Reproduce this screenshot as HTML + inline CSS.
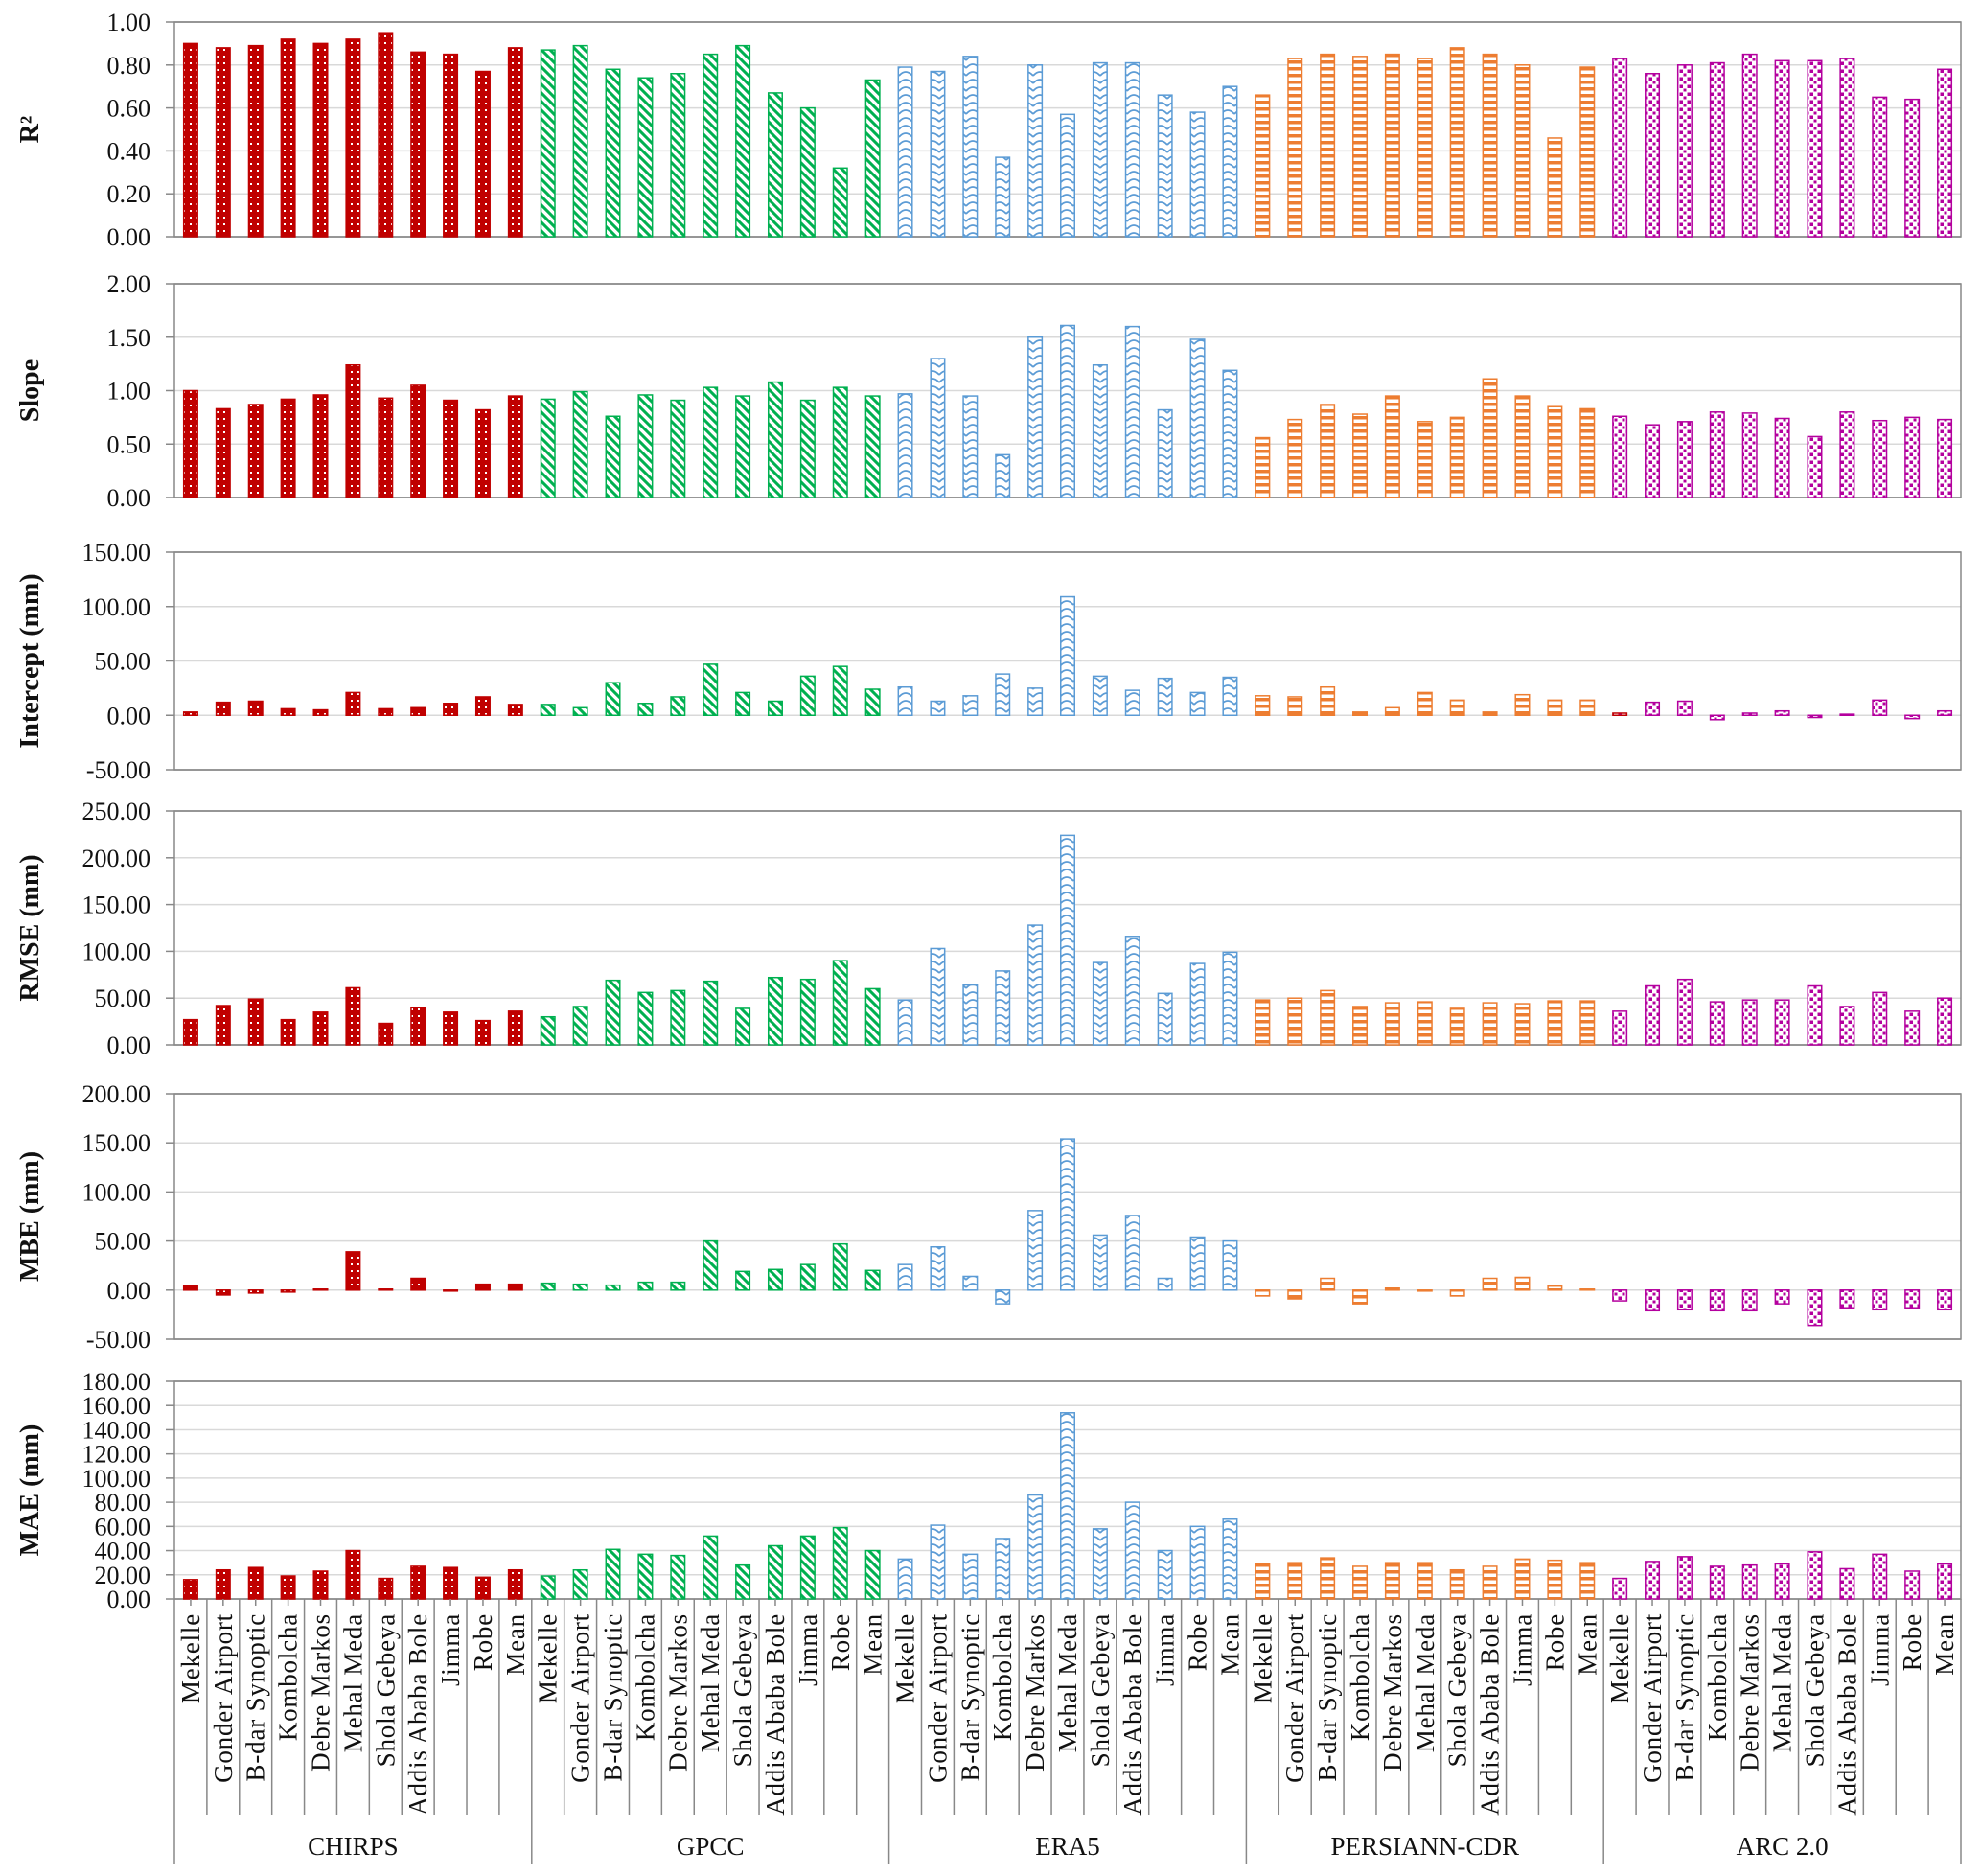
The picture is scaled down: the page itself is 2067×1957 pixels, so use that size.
<!DOCTYPE html>
<html><head><meta charset="utf-8"><style>
html,body{margin:0;padding:0;background:#fff}
svg{display:block;font-family:"Liberation Serif",serif}
</style></head><body>
<svg id="chart" width="2067" height="1957" viewBox="0 0 2067 1957" xmlns="http://www.w3.org/2000/svg">
<defs>
<pattern id="p0" patternUnits="userSpaceOnUse" width="7" height="7"><rect width="7" height="7" fill="#c00000"/><rect x="2" y="2" width="2" height="2" fill="#fff"/></pattern>
<pattern id="p1" patternUnits="userSpaceOnUse" width="9" height="9"><rect width="9" height="9" fill="#fff"/><path d="M-2,-2 L11,11 M-2,7 L2,11 M7,-2 L11,2" stroke="#00b050" stroke-width="3"/></pattern>
<pattern id="p2" patternUnits="userSpaceOnUse" width="14" height="8"><rect width="14" height="8" fill="#fff"/><path d="M0,7 Q7,-1 14,7" fill="none" stroke="#5b9bd5" stroke-width="1.8"/></pattern>
<pattern id="p3" patternUnits="userSpaceOnUse" width="8" height="7"><rect width="8" height="7" fill="#fff"/><rect y="0" width="8" height="3.5" fill="#ed7d31"/></pattern>
<pattern id="p4" patternUnits="userSpaceOnUse" width="8" height="8"><rect width="8" height="8" fill="#fff"/><rect x="0.5" y="0.5" width="3.5" height="3.5" fill="#b4009e"/><rect x="4.5" y="4.5" width="3" height="3" fill="#b4009e"/></pattern>
</defs>
<g id="root"></g>
</svg>
<script>
const stations = ["Mekelle","Gonder Airport","B-dar Synoptic","Kombolcha","Debre Markos","Mehal Meda","Shola Gebeya","Addis Ababa Bole","Jimma","Robe","Mean"];
const products = ["CHIRPS","GPCC","ERA5","PERSIANN-CDR","ARC 2.0"];
const r2Values = [
 [0.90,0.88,0.89,0.92,0.90,0.92,0.95,0.86,0.85,0.77,0.88],
 [0.87,0.89,0.78,0.74,0.76,0.85,0.89,0.67,0.60,0.32,0.73],
 [0.79,0.77,0.84,0.37,0.80,0.57,0.81,0.81,0.66,0.58,0.70],
 [0.66,0.83,0.85,0.84,0.85,0.83,0.88,0.85,0.80,0.46,0.79],
 [0.83,0.76,0.80,0.81,0.85,0.82,0.82,0.83,0.65,0.64,0.78]];
const slopeValues = [
 [1.00,0.83,0.87,0.92,0.96,1.24,0.93,1.05,0.91,0.82,0.95],
 [0.92,0.99,0.76,0.96,0.91,1.03,0.95,1.08,0.91,1.03,0.95],
 [0.97,1.30,0.95,0.40,1.50,1.61,1.24,1.60,0.82,1.48,1.19],
 [0.56,0.73,0.87,0.78,0.95,0.71,0.75,1.11,0.95,0.85,0.83],
 [0.76,0.68,0.71,0.80,0.79,0.74,0.57,0.80,0.72,0.75,0.73]];
const interceptValues = [
 [3,12,13,6,5,21,6,7,11,17,10],
 [10,7,30,11,17,47,21,13,36,45,24],
 [26,13,18,38,25,109,36,23,34,21,35],
 [18,17,26,3,7,21,14,3,19,14,14],
 [2,12,13,-4,2,4,-2,1,14,-3,4]];
const rmseValues = [
 [27,42,49,27,35,61,23,40,35,26,36],
 [30,41,69,56,58,68,39,72,70,90,60],
 [48,103,64,79,128,224,88,116,55,87,99],
 [48,50,58,41,45,46,39,45,44,47,47],
 [36,63,70,46,48,48,63,41,56,36,50]];
const mbeValues = [
 [4,-5,-3,-2,1,39,1,12,-1,6,6],
 [7,6,5,8,8,50,19,21,26,47,20],
 [26,44,14,-14,81,154,56,76,12,54,50],
 [-6,-9,12,-14,2,-1,-6,12,13,4,1],
 [-11,-21,-20,-21,-21,-14,-36,-18,-20,-18,-20]];
const maeValues = [
 [16,24,26,19,23,40,17,27,26,18,24],
 [19,24,41,37,36,52,28,44,52,59,40],
 [33,61,37,50,86,154,58,80,40,60,66],
 [29,30,34,27,30,30,24,27,33,32,30],
 [17,31,35,27,28,29,39,25,37,23,29]];
const r2Ticks = [0,0.2,0.4,0.6,0.8,1.0];
const slopeTicks = [0,0.5,1.0,1.5,2.0];
const interceptTicks = [-50,0,50,100,150];
const rmseTicks = [0,50,100,150,200,250];
const mbeTicks = [-50,0,50,100,150,200];
const maeTicks = [0,20,40,60,80,100,120,140,160,180];

const NS="http://www.w3.org/2000/svg";
const root=document.getElementById('root');
function el(tag,attrs,parent){const e=document.createElementNS(NS,tag);for(const k in attrs)e.setAttribute(k,attrs[k]);(parent||root).appendChild(e);return e;}
const X0=182,X1=2046,N=55,BW=(X1-X0)/N,BARW=14.5;
const strokes=["#c00000","#00b050","#5b9bd5","#ed7d31","#b4009e"];
const xCenter=i=>X0+(i+0.5)*BW;

const panels=[
 {name:"r2",title:"R²",vals:r2Values,ticks:r2Ticks,top:23,bot:247,min:0,max:1},
 {name:"slope",title:"Slope",vals:slopeValues,ticks:slopeTicks,top:296,bot:519,min:0,max:2},
 {name:"intercept",title:"Intercept (mm)",vals:interceptValues,ticks:interceptTicks,top:576,bot:803,min:-50,max:150},
 {name:"rmse",title:"RMSE (mm)",vals:rmseValues,ticks:rmseTicks,top:846,bot:1090,min:0,max:250},
 {name:"mbe",title:"MBE (mm)",vals:mbeValues,ticks:mbeTicks,top:1141,bot:1397,min:-50,max:200},
 {name:"mae",title:"MAE (mm)",vals:maeValues,ticks:maeTicks,top:1441,bot:1668,min:0,max:180}];

panels.forEach(p=>{
 const g=el('g',{});
 
 
 const y=v=>p.bot-(v-p.min)/(p.max-p.min)*(p.bot-p.top);
 p.ticks.forEach(t=>{
  const ln=el('line',{x1:X0,x2:X1,y1:y(t),y2:y(t),stroke:(t===p.min||t===p.max)?'#888':'#d9d9d9','stroke-width':1.5},g);
  
  
  const tk=el('line',{x1:X0-9,x2:X0,y1:y(t),y2:y(t),stroke:'#888','stroke-width':1.5},g);
  
  
  const tx=el('text',{x:157,y:y(t)+9,'text-anchor':'end','font-size':26,fill:'#111'},g);
  tx.textContent=t.toFixed(2);
  
  
 });
 const fr=el('rect',{x:X0,y:p.top,width:X1-X0,height:p.bot-p.top,fill:'none',stroke:'#888','stroke-width':1.5},g);
 
 
 const y0=y(Math.max(0,p.min));
 p.vals.forEach((arr,gi)=>arr.forEach((v,si)=>{
  const i=gi*11+si, yv=y(v);
  const st=(gi===4&&si===0&&p.name==="intercept")?"#c00000":strokes[gi];
  const r=el('rect',{x:xCenter(i)-BARW/2,y:Math.min(yv,y0),width:BARW,height:Math.max(1,Math.abs(y0-yv)),fill:'url(#p'+gi+')',stroke:st,'stroke-width':1.5},g);
  
  
 }));
 const ty=(p.top+p.bot)/2;
 const tt=el('text',{x:40,y:ty,transform:'rotate(-90 40 '+ty+')','text-anchor':'middle','font-size':28,'font-weight':'bold',fill:'#111'},g);
 tt.textContent=p.title;
 
 
});

const ax=el('g',{});


for(let i=0;i<=N;i++){
 const x=X0+i*BW, grp=(i%11===0);
 const l=el('line',{x1:x,x2:x,y1:1668,y2:grp?1944:1893,stroke:'#888','stroke-width':1.5},ax);
 
 
}
for(let i=0;i<N;i++){
 const x=xCenter(i);
 const tk=el('line',{x1:x,x2:x,y1:1668,y2:1675,stroke:'#888','stroke-width':1.5},ax);
 
 
 const t=el('text',{x:x+9,y:1683,transform:'rotate(-90 '+(x+9)+' 1683)','text-anchor':'end','font-size':27,'letter-spacing':'0.8',fill:'#111'},ax);
 t.textContent=stations[i%11];
 
 
}
products.forEach((pr,gi)=>{
 const t=el('text',{x:X0+(gi*11+5.5)*BW,y:1935,'text-anchor':'middle','font-size':27,fill:'#111'},ax);
 t.textContent=pr;
 
 
});
</script>
</body></html>
